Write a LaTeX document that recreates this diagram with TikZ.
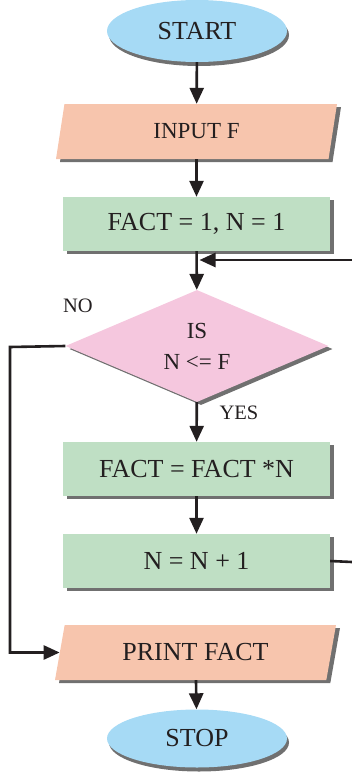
\documentclass[tikz,border=0pt]{standalone}
\usepackage{fontspec}
\setmainfont{Liberation Serif}
\usetikzlibrary{shapes.geometric,arrows.meta,shadows}
\definecolor{ink}{HTML}{231F20}
\definecolor{skyfill}{HTML}{A6DAF5}
\definecolor{peachfill}{HTML}{F7C5AD}
\definecolor{greenfill}{HTML}{BFDFC4}
\definecolor{pinkfill}{HTML}{F5C7DE}
\definecolor{shadowgray}{HTML}{707070}
\tikzset{
  txtbig/.style={font=\fontsize{26}{28}\selectfont, text=ink},
  txtmid/.style={font=\fontsize{23}{31}\selectfont, text=ink},
  txtsmall/.style={font=\fontsize{20.5}{22}\selectfont, text=ink},
  sh/.style={drop shadow={shadow xshift=4pt, shadow yshift=-3pt, fill=shadowgray, opacity=1}},
  termbox/.style={ellipse, fill=skyfill, minimum width=180pt, inner sep=0pt, txtbig,
     drop shadow={shadow xshift=2pt, shadow yshift=-4pt, fill=shadowgray, opacity=1}},
  iobox/.style={trapezium, trapezium left angle=61, trapezium right angle=119,
     trapezium stretches body, fill=peachfill, minimum width=281pt, minimum height=55pt,
     inner sep=0pt, sh},
  procbox/.style={rectangle, fill=greenfill, minimum width=267pt, minimum height=54pt,
     inner sep=0pt, txtbig, sh},
  decbox/.style={diamond, fill=pinkfill, minimum width=263pt, minimum height=112pt,
     inner sep=0pt, aspect=2.35, txtmid, align=center, sh},
  arr/.style={draw=ink, line width=2.6pt, -{Triangle[length=16pt,width=14pt]}},
  ln/.style={draw=ink, line width=2.6pt}
}
\begin{document}
\begin{tikzpicture}[x=1pt,y=-1pt]
\useasboundingbox (0,0) rectangle (352,776);
\node[termbox, minimum height=62pt] (start) at (197,31) {START};
\node[iobox, txtmid] (input) at (196.5,131.5) {INPUT F};
\node[procbox] (init) at (196.5,224) {FACT = 1, N = 1};
\node[decbox] (dec) at (197,346) {IS\\N <= F};
\node[procbox] (mult) at (196.5,469) {FACT = FACT *N};
\node[procbox] (inc) at (196.5,561) {N = N + 1};
\node[iobox, txtbig] (print) at (195.5,652.5) {PRINT FACT};
\node[termbox, minimum height=58pt] (stop) at (197,738.5) {STOP};
\node[txtsmall] (nolbl) at (78,306) {NO};
\node[txtsmall] (yeslbl) at (239,413) {YES};
\coordinate (join) at (197,260);
\coordinate (rtop) at (352,260);
\coordinate (rbot) at (352,562);
\coordinate (lcorner) at (10,347);

\draw[arr] (start) -- (input);
\draw[arr] (input) -- (init);
\draw[arr] (init) -- (dec);
\draw[arr] (dec) -- (mult);
\draw[arr] (mult) -- (inc);
\draw[arr] (print) -- (stop);
\draw[arr] (dec.west) -- (lcorner) |- (print.west);
\draw[ln] (inc.east) -- (rbot);
\draw[arr, shorten >=2.5pt] (rtop) -- (join);
\end{tikzpicture}
\end{document}
